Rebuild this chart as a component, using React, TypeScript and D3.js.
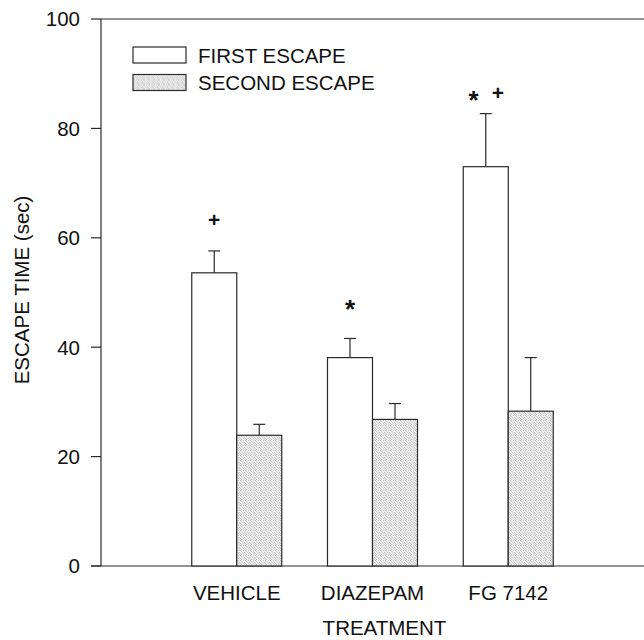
import React from 'react';
import * as d3 from 'd3';

const categories = ['VEHICLE', 'DIAZEPAM', 'FG 7142'];
const seriesNames = ['FIRST ESCAPE', 'SECOND ESCAPE'];
const firstEscape = [53.6, 38.1, 73.0];
const firstErr = [4.0, 3.5, 9.7];
const secondEscape = [23.9, 26.8, 28.3];
const secondErr = [2.0, 2.9, 9.8];
const yTicks = [0, 20, 40, 60, 80, 100];
// significance marks above the first-escape bars: [category index, symbol, y value, offset in bar widths]
const marks: [number, string, number, number][] = [
  [0, '+', 63.4, 0],
  [1, '*', 47.8, 0],
  [2, '*', 86.0, -0.27],
  [2, '+', 86.5, 0.27],
];

const W = 644;
const H = 640;
const font = '"Liberation Sans", Arial, Helvetica, sans-serif';
const fs = 20.5;

export default function App() {
  const left = 101;
  const x = d3.scaleLinear().domain([0, 4]).range([left, W]);
  const y = d3.scaleLinear().domain([0, 100]).range([566, 19]);
  const groupW = (x(1) - x(0)) * 0.663;
  const sub = d3.scaleBand<string>().domain(seriesNames).range([-groupW / 2, groupW / 2]);
  const bw = sub.bandwidth();
  const stroke = '#2a2a2a';

  const series = [
    { name: seriesNames[0], vals: firstEscape, errs: firstErr, fill: '#ffffff' },
    { name: seriesNames[1], vals: secondEscape, errs: secondErr, fill: 'url(#stipple)' },
  ];

  // stipple dots inside a 5x5 tile
  const dots: [number, number, string][] = [
    [0, 0, '#bcbcbc'], [3, 0, '#cdcdcd'], [1, 1, '#d0d0d0'], [4, 2, '#c2c2c2'],
    [2, 2, '#d6d6d6'], [0, 3, '#cacaca'], [3, 3, '#d3d3d3'], [1, 4, '#c4c4c4'], [4, 4, '#d8d8d8'],
  ];

  return (
    <svg width={W} height={H} style={{ position: 'absolute', left: 0, top: 0, background: '#fff' }}
      fontFamily={font}>
      <defs>
        <pattern id="stipple" width={5} height={5} patternUnits="userSpaceOnUse">
          <rect width={5} height={5} fill="#ebebeb" />
          {dots.map(([dx, dy, c], k) => (
            <rect key={k} x={dx} y={dy} width={1} height={1} fill={c} />
          ))}
        </pattern>
      </defs>

      {/* frame: y axis, top line, x axis */}
      <line x1={left} x2={left} y1={y(100)} y2={y(0)} stroke={stroke} strokeWidth={1.2} />
      <line x1={left} x2={W} y1={y(100)} y2={y(100)} stroke={stroke} strokeWidth={1.2} />
      <line x1={left - 10} x2={W} y1={y(0)} y2={y(0)} stroke={stroke} strokeWidth={1.2} />

      {yTicks.map(t => (
        <g key={t} transform={`translate(0,${y(t)})`}>
          <line x1={left - 10} x2={left} stroke={stroke} strokeWidth={1.2} />
          <text x={80} dy="0.36em" textAnchor="end" fontSize={fs} fill="#111">{t}</text>
        </g>
      ))}

      {/* bars */}
      {series.map(s => (
        <g key={s.name}>
          {categories.map((c, i) => {
            const bx = x(i + 1) + (sub(s.name) as number);
            const cx = bx + bw / 2;
            const top = y(s.vals[i] + s.errs[i]);
            return (
              <g key={c}>
                <line x1={cx} x2={cx} y1={y(s.vals[i])} y2={top} stroke={stroke} strokeWidth={1.2} />
                <line x1={cx - 6} x2={cx + 6} y1={top} y2={top} stroke={stroke} strokeWidth={1.2} />
                <rect x={bx} y={y(s.vals[i])} width={bw} height={y(0) - y(s.vals[i])}
                  fill={s.fill} stroke={stroke} strokeWidth={1.2} />
              </g>
            );
          })}
        </g>
      ))}

      {/* significance marks */}
      {marks.map(([ci, sym, v, off], k) => {
        const cx = x(ci + 1) + (sub(seriesNames[0]) as number) + bw / 2 + off * bw;
        return (
          <text key={k} x={cx} y={y(v)} dy={sym === '*' ? '0.52em' : '0.36em'} textAnchor="middle"
            fontSize={sym === '*' ? 26 : 21} fontWeight="bold" fill="#111">{sym}</text>
        );
      })}

      {/* category labels */}
      {categories.map((c, i) => (
        <text key={c} x={x(i + 1)} y={600} textAnchor="middle" fontSize={fs} fill="#111">{c}</text>
      ))}
      <text x={x(2) + 12} y={635} textAnchor="middle" fontSize={fs} fill="#111">TREATMENT</text>
      <text transform={`translate(22,${290}) rotate(-90)`} dy="0.36em" textAnchor="middle" fontSize={fs} fill="#111">
        ESCAPE TIME (sec)
      </text>

      {/* legend */}
      {series.map((s, i) => (
        <g key={s.name} transform={`translate(133,${47 + i * 27.5})`}>
          <rect width={53} height={16} fill={s.fill} stroke={stroke} strokeWidth={1.2} />
          <text x={65} y={8} dy="0.38em" fontSize={fs} fill="#111">{s.name}</text>
        </g>
      ))}
    </svg>
  );
}
